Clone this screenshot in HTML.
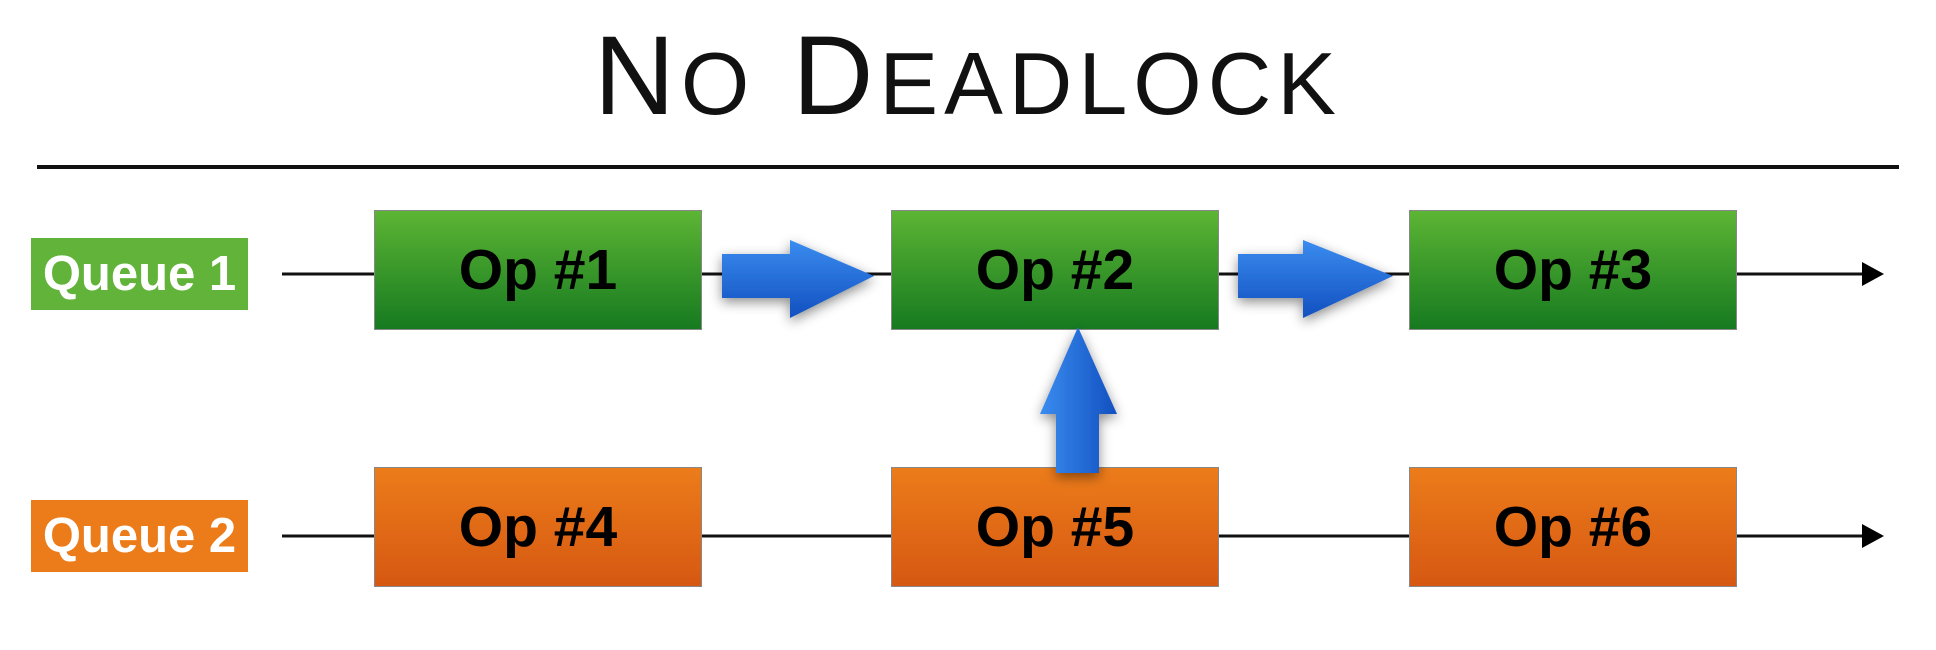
<!DOCTYPE html>
<html><head><meta charset="utf-8"><style>
body{margin:0;width:1936px;height:650px;background:#fff;position:relative;overflow:hidden;font-family:"Liberation Sans",sans-serif}
.t{position:absolute;left:0;width:1936px;top:20px;text-align:center;font-size:112px;line-height:112px;color:#111;letter-spacing:6px}
.t span{font-size:88px}
.lbl{position:absolute;left:31px;width:217px;height:72px;color:#fff;font-weight:bold;font-size:49px;line-height:72px;text-align:center}
.box{position:absolute;width:328px;height:120px;border:1.5px solid #888;box-sizing:border-box;font-weight:bold;font-size:57px;line-height:118px;text-align:center;color:#000}
.g{background:linear-gradient(#5db534,#167a20)}
.o{background:linear-gradient(#ec7c1a,#d65812)}
</style></head><body>
<div class="t">N<span>O</span> D<span>EADLOCK</span></div>
<svg width="1936" height="650" style="position:absolute;left:0;top:0">
<defs>
<linearGradient id="b" x1="0" y1="0" x2="0" y2="1"><stop offset="0" stop-color="#3a8cf0"/><stop offset="1" stop-color="#1250c0"/></linearGradient>
<linearGradient id="bh" x1="0" y1="0" x2="1" y2="0"><stop offset="0" stop-color="#3a8cf0"/><stop offset="1" stop-color="#1250c0"/></linearGradient>
<filter id="s" x="-30%" y="-30%" width="160%" height="160%"><feDropShadow dx="0" dy="4" stdDeviation="6" flood-opacity="0.45"/></filter>
</defs>
<line x1="37" y1="167" x2="1899" y2="167" stroke="#111" stroke-width="4"/>
<line x1="282" y1="274" x2="1880" y2="274" stroke="#111" stroke-width="3"/>
<path d="M1862,262 L1884,274 L1862,286z" fill="#000"/>
<line x1="282" y1="536" x2="1880" y2="536" stroke="#111" stroke-width="3"/>
<path d="M1862,524 L1884,536 L1862,548z" fill="#000"/>
</svg>
<div class="lbl" style="top:238px;background:#62b33a">Queue 1</div>
<div class="lbl" style="top:500px;background:#ec7c1a">Queue 2</div>
<div class="box g" style="left:374px;top:210px">Op #1</div>
<div class="box g" style="left:891px;top:210px">Op #2</div>
<div class="box g" style="left:1409px;top:210px">Op #3</div>
<div class="box o" style="left:374px;top:467px">Op #4</div>
<div class="box o" style="left:891px;top:467px">Op #5</div>
<div class="box o" style="left:1409px;top:467px">Op #6</div>
<svg width="1936" height="650" style="position:absolute;left:0;top:0">
<g filter="url(#s)">
<path d="M722,254 L790,254 L790,240 L874,276 L790,318 L790,298 L722,298z" fill="url(#b)"/>
<path d="M1238,254 L1303,254 L1303,240 L1393,276 L1303,318 L1303,298 L1238,298z" fill="url(#b)"/>
<path d="M1056,473 L1056,414 L1040,414 L1078,327 L1117,414 L1099,414 L1099,473z" fill="url(#bh)"/>
</g>
</svg>
</body></html>
